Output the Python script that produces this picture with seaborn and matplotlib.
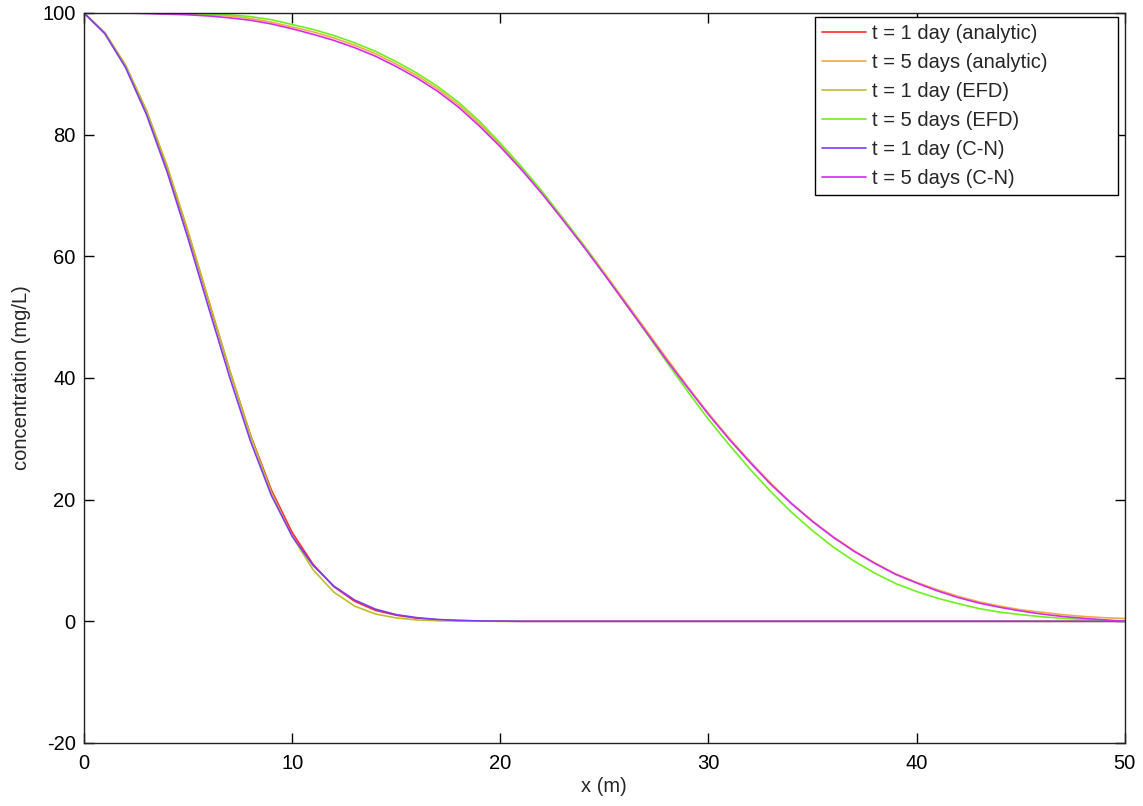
import numpy as np
import pandas as pd
import matplotlib
matplotlib.use("Agg")
import matplotlib.pyplot as plt
import seaborn as sns

x_m = list(range(0, 51))

c_1day_analytic = [100, 96.7, 91.3, 83.9, 74.6, 63.9, 52.5, 41.2, 30.6, 21.6, 14.6,
                   9.4, 5.7, 3.3, 1.8, 1.0, 0.5, 0.25, 0.12, 0.05, 0.02] + [0.0] * 30
c_1day_efd = [100, 96.8, 91.4, 84.0, 74.8, 64.1, 52.7, 41.3, 30.5, 21.2, 14.0,
              8.5, 4.8, 2.5, 1.2, 0.55, 0.22, 0.09, 0.03, 0.01, 0.0] + [0.0] * 30
c_1day_cn = [100, 96.6, 91.0, 83.3, 73.8, 62.9, 51.4, 40.1, 29.6, 20.7, 14.0,
             9.2, 5.8, 3.5, 2.0, 1.1, 0.6, 0.3, 0.15, 0.07, 0.03] + [0.0] * 30

c_5day_analytic = [100, 100, 100, 100, 99.9, 99.8, 99.7, 99.5, 99.1, 98.5, 97.7,
                   96.9, 95.9, 94.7, 93.3, 91.6, 89.7, 87.5, 84.9, 81.8, 78.3,
                   74.6, 70.6, 66.3, 61.9, 57.3, 52.6, 47.9, 43.2, 38.6, 34.2,
                   30.1, 26.3, 22.7, 19.4, 16.5, 13.9, 11.6, 9.6, 7.8, 6.4,
                   5.2, 4.1, 3.2, 2.5, 1.9, 1.5, 1.1, 0.8, 0.6, 0.45]
c_5day_efd = [100, 100, 100, 100, 100, 99.9, 99.8, 99.7, 99.4, 98.9, 98.1,
              97.3, 96.3, 95.1, 93.7, 92.0, 90.1, 87.9, 85.3, 82.2, 78.6,
              74.8, 70.7, 66.3, 61.8, 57.1, 52.3, 47.5, 42.6, 37.8, 33.2,
              29.0, 25.0, 21.3, 17.9, 14.9, 12.2, 9.9, 7.9, 6.2, 4.9,
              3.8, 2.9, 2.1, 1.5, 1.1, 0.75, 0.5, 0.3, 0.12, 0.0]
c_5day_cn = [100, 100, 100, 99.9, 99.8, 99.7, 99.5, 99.2, 98.8, 98.2, 97.4,
             96.5, 95.5, 94.3, 92.9, 91.2, 89.3, 87.1, 84.5, 81.4, 78.0,
             74.3, 70.3, 66.0, 61.6, 57.0, 52.3, 47.6, 42.9, 38.4, 34.0,
             29.9, 26.1, 22.5, 19.3, 16.4, 13.8, 11.5, 9.5, 7.7, 6.3,
             5.0, 3.9, 3.0, 2.3, 1.7, 1.2, 0.8, 0.5, 0.25, 0.0]

labels = ["t = 1 day (analytic)", "t = 5 days (analytic)", "t = 1 day (EFD)",
          "t = 5 days (EFD)", "t = 1 day (C-N)", "t = 5 days (C-N)"]
series = [c_1day_analytic, c_5day_analytic, c_1day_efd, c_5day_efd, c_1day_cn, c_5day_cn]
colors = ["#ff2a2a", "#f4a848", "#bcbf2c", "#6ef01c", "#7f3cf5", "#d22cf2"]

frames = []
for lab, vals in zip(labels, series):
    frames.append(pd.DataFrame({"x": x_m, "c": vals, "series": lab}))
df = pd.concat(frames, ignore_index=True)

sns.set_style("ticks")
plt.rcParams["font.family"] = ["Liberation Sans", "DejaVu Sans"]
plt.rcParams["axes.unicode_minus"] = False

fig = plt.figure(figsize=(11.43, 8.06), dpi=100)
ax = fig.add_axes([0.0735, 0.0782, 0.9105, 0.9057])

sns.lineplot(data=df, x="x", y="c", hue="series", hue_order=labels,
             palette=dict(zip(labels, colors)), linewidth=1.2, ax=ax,
             estimator=None, sort=False)

ax.set_xlim(0, 50)
ax.set_ylim(-20, 100)
ax.set_xticks([0, 10, 20, 30, 40, 50])
ax.set_yticks([-20, 0, 20, 40, 60, 80, 100])
ax.set_xlabel("x (m)", fontsize=14.5, labelpad=3)
ax.set_ylabel("concentration (mg/L)", fontsize=14.5, labelpad=8)
ax.tick_params(direction="in", length=7, width=1, top=True, right=True,
               labelsize=14.5, colors="black")
ax.tick_params(axis="x", pad=8)
ax.tick_params(axis="y", pad=6)
for s in ax.spines.values():
    s.set_visible(True)
    s.set_linewidth(1.0)
    s.set_color("#222222")

leg = ax.legend(loc="upper left", bbox_to_anchor=(0.7022, 0.7548, 0.2911, 0.2397),
                mode="expand", fontsize=14.5,
                frameon=True, fancybox=False, edgecolor="black", framealpha=1,
                handlelength=2.2, borderpad=0.35, labelspacing=0.5,
                handletextpad=0.3, borderaxespad=0)
leg.get_frame().set_linewidth(1.0)

fig.savefig("out.png", dpi=100)
